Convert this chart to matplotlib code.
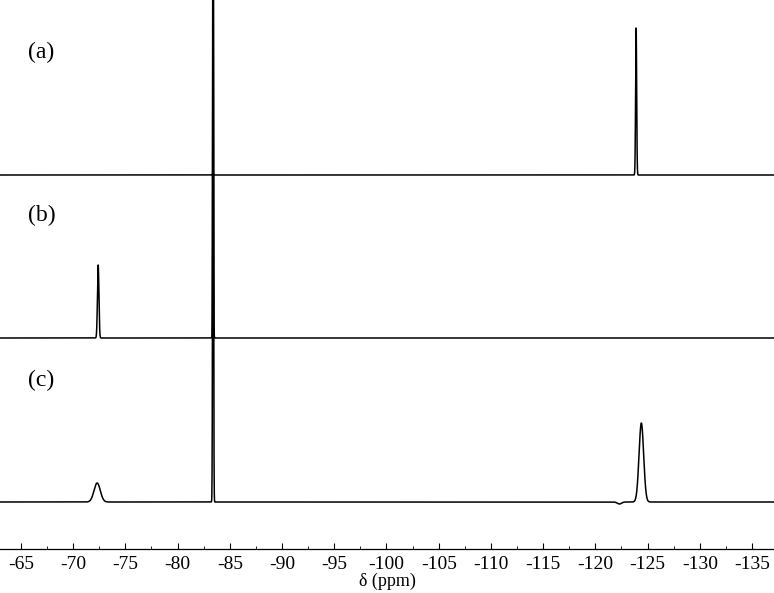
import numpy as np
import matplotlib.pyplot as plt
from matplotlib.ticker import MultipleLocator

plt.rcParams['font.family'] = ['Liberation Serif', 'DejaVu Serif']
plt.rcParams['axes.unicode_minus'] = False

# chemical shift grid (ppm)
ppm = np.linspace(-62, -138, 12000)

# peaks per trace: position (ppm), height, gaussian sigma (ppm)
pos_a = [-123.9, -83.4]
amp_a = [147, 2]
sig_a = [0.05, 0.05]

pos_b = [-72.4, -83.4]
amp_b = [73, 600]
sig_b = [0.07, 0.035]

pos_c = [-72.3, -83.4, -124.4, -122.3]
amp_c = [19, 600, 79, -2]
sig_c = [0.3, 0.04, 0.22, 0.2]

offsets = [374, 211, 47]
labels = ['(a)', '(b)', '(c)']
label_y = [497, 334, 169]


def spectrum(pos, amp, sig):
    y = np.zeros_like(ppm)
    for p, a, s in zip(pos, amp, sig):
        y += a * np.exp(-0.5 * ((ppm - p) / s)**2)
    return y


fig = plt.figure(figsize=(7.74, 5.93), dpi=100)
ax = fig.add_axes([0, 1 - 549 / 593, 1, 549 / 593])

traces = [(pos_a, amp_a, sig_a), (pos_b, amp_b, sig_b), (pos_c, amp_c, sig_c)]
for (p, a, s), off in zip(traces, offsets):
    ax.plot(ppm, spectrum(p, a, s) + off, color='black', lw=1.1)

for lab, ly in zip(labels, label_y):
    ax.text(-65.7, ly, lab, fontsize=17, ha='left', va='center')

ax.set_xlim(-63, -137.1)
ax.set_ylim(0, 549)
ax.xaxis.set_major_locator(MultipleLocator(5))
ax.xaxis.set_minor_locator(MultipleLocator(2.5))
ax.tick_params(axis='x', direction='in', length=4, labelsize=14, pad=5)
ax.tick_params(axis='x', which='minor', direction='in', length=2.5)
ax.set_yticks([])
for s in ['left', 'right', 'top']:
    ax.spines[s].set_visible(False)
ax.spines['bottom'].set_linewidth(0.9)
ax.set_xlabel('δ (ppm)', fontsize=13, labelpad=0)

fig.savefig('out.png', dpi=100)
